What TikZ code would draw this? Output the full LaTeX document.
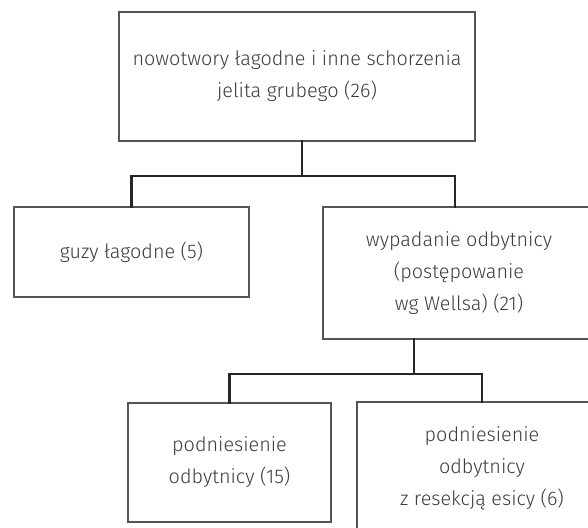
\documentclass[tikz,border=0pt]{standalone}
\usepackage{fontspec}
\setmainfont{Fira Sans}[UprightFont={* Light}]
\definecolor{ramka}{HTML}{555555}
\definecolor{tekst}{HTML}{3C3C3C}
\tikzset{
	kasten/.style={draw=ramka, line width=1.3pt, text=tekst, align=center, inner sep=0pt,
		font=\fontsize{19.8}{32}\selectfont},
	linie/.style={line width=2.6pt, color=black!85, line cap=rect}
}
\begin{document}
\begin{tikzpicture}[x=1pt,y=-1pt]
	\useasboundingbox (0,0) rectangle (588,527);
	\clip (0,0) rectangle (588,527);
	\fill[white] (0,0) rectangle (588,527);
	% Kaesten
	\node[kasten, minimum width=356pt, minimum height=129pt] (top) at (297,76.5)
		{nowotwory łagodne i inne schorzenia\\jelita grubego (26)};
	\node[kasten, minimum width=235pt, minimum height=90pt] (guzy) at (131.5,252) {guzy łagodne (5)};
	\node[kasten, minimum width=272pt, minimum height=132pt] (wyp) at (459,273)
		{wypadanie odbytnicy\\(postępowanie\\wg Wellsa) (21)};
	\node[kasten, minimum width=203pt, minimum height=119pt] (podn) at (229.5,462.5)
		{podniesienie\\odbytnicy (15)};
	\node[kasten, minimum width=250pt, minimum height=132pt] (resek) at (482,468)
		{podniesienie\\odbytnicy\\z resekcją esicy (6)};
	% Zwischenpunkte
	\coordinate (t1) at (302,141);
	\coordinate (t2) at (302,176);
	\coordinate (w1) at (414,339);
	\coordinate (w2) at (414,374);
	% Verbindungen
	\draw[linie] (t1) -- (t2);
	\draw[linie] (guzy.north) -- (guzy.north |- t2) -- (455,176) -- (455,207);
	\draw[linie] (w1) -- (w2);
	\draw[linie] (podn.north) -- (podn.north |- w2) -- (w2 -| resek.north) -- (resek.north);
\end{tikzpicture}
\end{document}
